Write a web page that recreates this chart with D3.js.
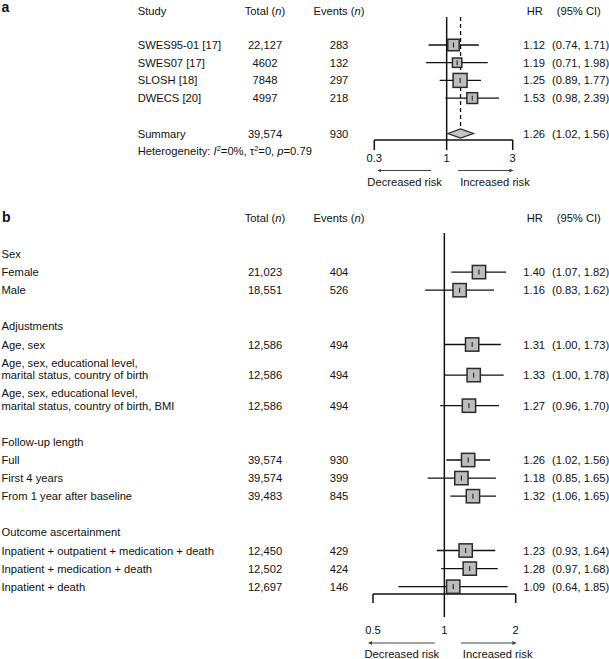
<!DOCTYPE html>
<html><head><meta charset="utf-8">
<script src="https://cdn.jsdelivr.net/npm/d3@7/dist/d3.min.js"></script>
<style>
body{margin:0;background:#fff}
svg text{font-family:"Liberation Sans",Arial,Helvetica,sans-serif;font-size:11.2px;fill:#111}
</style>
</head><body>
<svg id="chart" width="609" height="659"></svg>
<script>
// ---------- Panel a data ----------
const aStudies = ["SWES95-01 [17]", "SWES07 [17]", "SLOSH [18]", "DWECS [20]"];
const aTotal = ["22,127", "4602", "7848", "4997"];
const aEvents = [283, 132, 297, 218];
const aHR = [1.12, 1.19, 1.25, 1.53];
const aLo = [0.74, 0.71, 0.89, 0.98];
const aHi = [1.71, 1.98, 1.77, 2.39];
const aSummary = {label: "Summary", total: "39,574", events: 930, hr: 1.26, lo: 1.02, hi: 1.56};
const aTicks = [0.3, 1, 3];

// ---------- Panel b data ----------
const bGroups = ["Sex", "Adjustments", "Follow-up length", "Outcome ascertainment"];
const bLabels = [
  ["Female"], ["Male"],
  ["Age, sex"],
  ["Age, sex, educational level,", "marital status, country of birth"],
  ["Age, sex, educational level,", "marital status, country of birth, BMI"],
  ["Full"], ["First 4 years"], ["From 1 year after baseline"],
  ["Inpatient + outpatient + medication + death"], ["Inpatient + medication + death"], ["Inpatient + death"]
];
const bGroupOf = [0, 0, 1, 1, 1, 2, 2, 2, 3, 3, 3];
const bTotal = ["21,023", "18,551", "12,586", "12,586", "12,586", "39,574", "39,574", "39,483", "12,450", "12,502", "12,697"];
const bEvents = [404, 526, 494, 494, 494, 930, 399, 845, 429, 424, 146];
const bHR = [1.40, 1.16, 1.31, 1.33, 1.27, 1.26, 1.18, 1.32, 1.23, 1.28, 1.09];
const bLo = [1.07, 0.83, 1.00, 1.00, 0.96, 1.02, 0.85, 1.06, 0.93, 0.97, 0.64];
const bHi = [1.82, 1.62, 1.73, 1.78, 1.70, 1.56, 1.65, 1.65, 1.64, 1.68, 1.85];
const bTicks = [0.5, 1, 2];

// ---------- layout ----------
const svg = d3.select("#chart");
const fmt = d3.format(".2f");
const BL = 4; // baseline offset from row centre
const colLabel = 137.7, colTotal = 265, colEvents = 339, colHR = 523.3, colCI = 552;
const hdrHR = 526.7, hdrCI = 556.7;
const ink = "#111";

const defs = svg.append("defs");
defs.append("marker").attr("id", "ah").attr("viewBox", "0 0 6 6").attr("refX", 5).attr("refY", 3)
  .attr("markerWidth", 4).attr("markerHeight", 4).attr("orient", "auto-start-reverse")
  .append("path").attr("d", "M0,0L6,3L0,6Z").attr("fill", "#444");

function txt(g, x, y, s, anchor) {
  return g.append("text").attr("x", x).attr("y", y + BL).attr("text-anchor", anchor || "start").text(s);
}
function italHeader(g, x, y, before, it, after) {
  const t = g.append("text").attr("x", x).attr("y", y + BL).attr("text-anchor", "middle");
  t.append("tspan").text(before);
  t.append("tspan").attr("font-style", "italic").text(it);
  t.append("tspan").text(after);
}
function boxMark(g, x, y, lo, hi, hr, side) {
  g.append("line").attr("x1", x(lo)).attr("x2", x(hi)).attr("y1", y).attr("y2", y)
    .attr("stroke", ink).attr("stroke-width", 1.3);
  g.append("rect").attr("x", x(hr) - side / 2).attr("y", y - side / 2).attr("width", side).attr("height", side)
    .attr("fill", "#bdbdbd").attr("stroke", "#2a2a2a").attr("stroke-width", 1.5);
  g.append("line").attr("x1", x(hr)).attr("x2", x(hr)).attr("y1", y - 2.5).attr("y2", y + 2.5)
    .attr("stroke", ink).attr("stroke-width", 1);
}
function axisBlock(g, x, ticks, yAxis, tickEnd, centreTop, centreEnd, yLab, yArrow, yRiskText, decLeft, decRight, incLeft, incRight) {
  g.append("line").attr("x1", x(1)).attr("x2", x(1)).attr("y1", centreTop).attr("y2", centreEnd)
    .attr("stroke", ink).attr("stroke-width", 1.5);
  const [d0, d1] = x.domain();
  g.append("line").attr("x1", x(d0)).attr("x2", x(d1)).attr("y1", yAxis).attr("y2", yAxis)
    .attr("stroke", ink).attr("stroke-width", 1.5);
  [d0, d1].forEach(v => g.append("line").attr("x1", x(v)).attr("x2", x(v)).attr("y1", yAxis).attr("y2", tickEnd)
    .attr("stroke", ink).attr("stroke-width", 1.5));
  ticks.forEach(v => txt(g, x(v), yLab, String(v), "middle"));
  g.append("line").attr("x1", decRight).attr("x2", decLeft).attr("y1", yArrow).attr("y2", yArrow)
    .attr("stroke", "#444").attr("stroke-width", 1).attr("marker-end", "url(#ah)");
  g.append("line").attr("x1", incLeft).attr("x2", incRight).attr("y1", yArrow).attr("y2", yArrow)
    .attr("stroke", "#444").attr("stroke-width", 1).attr("marker-end", "url(#ah)");
  txt(g, (decLeft + decRight) / 2, yRiskText, "Decreased risk", "middle");
  txt(g, incLeft + 2, yRiskText, "Increased risk", "start");
}

// ---------- Panel a ----------
const gA = svg.append("g");
gA.append("text").attr("x", 1.5).attr("y", 12).attr("font-weight", "bold").style("font-size", "14px").text("a");
const xA = d3.scaleLog().domain([0.3, 3]).range([374.3, 512.7]);
const aStep = 17.7, aRow0 = 45, aHead = 10.7;
txt(gA, colLabel, aHead, "Study");
italHeader(gA, colTotal, aHead, "Total (", "n", ")");
italHeader(gA, colEvents, aHead, "Events (", "n", ")");
txt(gA, hdrHR, aHead, "HR");
txt(gA, hdrCI, aHead, "(95% CI)");

const ySum = aRow0 + 5 * aStep;
const yHet = aRow0 + 6 * aStep;
const aAxisY = 140;

axisBlock(gA, xA, aTicks, aAxisY, 150, 17, 150, 158.3, 170.5, 181.7,
  xA(1) - 68.5, xA(1) - 15.5, xA(1) + 11.5, xA(3));
gA.append("line").attr("x1", xA(aSummary.hr)).attr("x2", xA(aSummary.hr)).attr("y1", 17).attr("y2", ySum - 4.5)
  .attr("stroke", ink).attr("stroke-width", 1.3).attr("stroke-dasharray", "4,3");

aStudies.forEach((s, i) => {
  const y = aRow0 + i * aStep;
  txt(gA, colLabel, y, s);
  txt(gA, colTotal, y, aTotal[i], "middle");
  txt(gA, colEvents, y, aEvents[i], "middle");
  txt(gA, colHR, y, fmt(aHR[i]));
  txt(gA, colCI, y, `(${fmt(aLo[i])}, ${fmt(aHi[i])})`);
  const se = (Math.log(aHi[i]) - Math.log(aLo[i])) / 3.92;
  boxMark(gA, xA, y, aLo[i], aHi[i], aHR[i], 2.45 / se);
});

txt(gA, colLabel, ySum, aSummary.label);
txt(gA, colTotal, ySum, aSummary.total, "middle");
txt(gA, colEvents, ySum, aSummary.events, "middle");
txt(gA, colHR, ySum, fmt(aSummary.hr));
txt(gA, colCI, ySum, `(${fmt(aSummary.lo)}, ${fmt(aSummary.hi)})`);
gA.append("path")
  .attr("d", `M${xA(aSummary.lo)},${ySum}L${xA(aSummary.hr)},${ySum - 4.5}L${xA(aSummary.hi)},${ySum}L${xA(aSummary.hr)},${ySum + 4.5}Z`)
  .attr("fill", "#c4c4c4").attr("stroke", "#2a2a2a").attr("stroke-width", 1.3);

const het = gA.append("text").attr("x", colLabel).attr("y", yHet + BL);
het.append("tspan").text("Heterogeneity: ");
het.append("tspan").attr("font-style", "italic").text("I");
het.append("tspan").attr("dy", -4.5).style("font-size", "7.5px").text("2");
het.append("tspan").attr("dy", 4.5).text("=0%, \u03C4");
het.append("tspan").attr("dy", -4.5).style("font-size", "7.5px").text("2");
het.append("tspan").attr("dy", 4.5).text("=0, ");
het.append("tspan").attr("font-style", "italic").text("p");
het.append("tspan").text("=0.79");

// ---------- Panel b ----------
const gB = svg.append("g");
const bHead = 218;
gB.append("text").attr("x", 2).attr("y", 222).attr("font-weight", "bold").style("font-size", "14px").text("b");
italHeader(gB, colTotal, bHead, "Total (", "n", ")");
italHeader(gB, colEvents, bHead, "Events (", "n", ")");
txt(gB, hdrHR, bHead, "HR");
txt(gB, hdrCI, bHead, "(95% CI)");

const xB = d3.scaleLog().domain([0.5, 2]).range([373, 515.7]);
const bStep = 18.1, bLineGap = 12.5, bLabelX = 1.5;
let yCur = 254 - bStep;
const itemY = [];
bGroups.forEach((grp, gi) => {
  if (gi > 0) yCur += bStep;
  yCur += bStep;
  txt(gB, bLabelX, yCur, grp);
  bLabels.forEach((lines, i) => {
    if (bGroupOf[i] !== gi) return;
    yCur += bStep;
    lines.forEach((ln, li) => {
      if (li > 0) yCur += bLineGap;
      txt(gB, bLabelX, yCur, ln);
    });
    itemY[i] = yCur;
  });
});

axisBlock(gB, xB, bTicks, 594, 603, 233, 617, 630.2, 643, 653.6,
  xB(1) - 75.5, xB(1) - 9.5, xB(1) + 16.5, xB(2));

bLabels.forEach((lines, i) => {
  const y = itemY[i];
  txt(gB, colTotal, y, bTotal[i], "middle");
  txt(gB, colEvents, y, bEvents[i], "middle");
  txt(gB, colHR, y, fmt(bHR[i]));
  txt(gB, colCI, y, `(${fmt(bLo[i])}, ${fmt(bHi[i])})`);
  boxMark(gB, xB, y, bLo[i], bHi[i], bHR[i], 13.3);
});
</script>
</body></html>
